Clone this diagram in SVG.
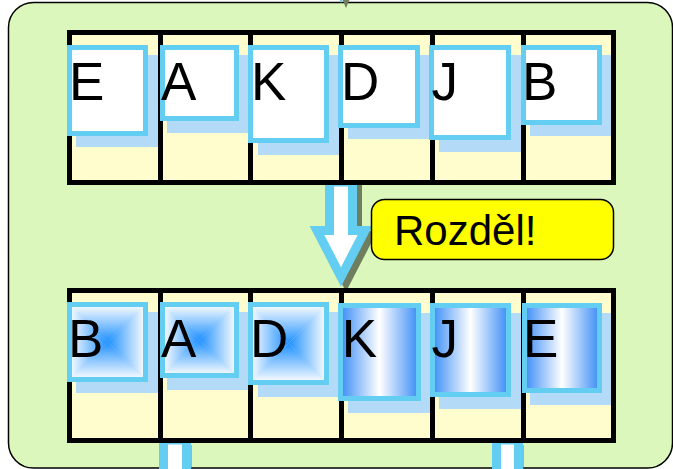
<svg xmlns="http://www.w3.org/2000/svg" width="673" height="469" viewBox="0 0 673 469">
  <style>
    .bg { fill: #DCF7BC; stroke: #000; stroke-width: 1.5; }
    .cells { fill: #FFFDCD; stroke: none; }
    .frame { fill: none; stroke: #000; stroke-width: 5; }
    .div { stroke: #000; stroke-width: 5; }
    .shadow { fill: #B3DBF8; }
    .card { stroke: #63CDF2; stroke-width: 5; }
    .white { fill: #FFFFFF; }
    .letter { font-family: "Liberation Sans", Arial, sans-serif; font-size: 53px; fill: #000; }
    .label-box { fill: #FFFF00; stroke: #000; stroke-width: 1.5; }
    .label-text { font-family: "Liberation Sans", Arial, sans-serif; font-size: 42px; fill: #000; }
    .arrow { fill: #FFFFFF; stroke: #63CDF2; stroke-width: 9; stroke-linejoin: miter; }
    .arrow-shadow { fill: #6E7E5E; stroke: #6E7E5E; stroke-width: 9; stroke-linejoin: miter; }
  </style>
  <defs>
    <linearGradient id="gTop" x1="0" y1="0" x2="0" y2="1"><stop offset="0" stop-color="#FFFFFF"/><stop offset="1" stop-color="#1E90FF"/></linearGradient>
    <linearGradient id="gBottom" x1="0" y1="0" x2="0" y2="1"><stop offset="0" stop-color="#1E90FF"/><stop offset="1" stop-color="#FFFFFF"/></linearGradient>
    <linearGradient id="gLeft" x1="0" y1="0" x2="1" y2="0"><stop offset="0" stop-color="#FFFFFF"/><stop offset="1" stop-color="#1E90FF"/></linearGradient>
    <linearGradient id="gRight" x1="0" y1="0" x2="1" y2="0"><stop offset="0" stop-color="#1E90FF"/><stop offset="1" stop-color="#FFFFFF"/></linearGradient>
    <linearGradient id="gCyl" x1="0" y1="0" x2="1" y2="0"><stop offset="0" stop-color="#3A8CF6"/><stop offset="0.5" stop-color="#FFFFFF"/><stop offset="1" stop-color="#3A8CF6"/></linearGradient>
  </defs>

  <rect id="background" class="bg" x="8.5" y="2.5" width="664" height="465.5" rx="25" ry="25"/>

  <g id="connectors">
    <polygon points="340,-6 352,-6 346,8" fill="#6E7E5E"/>
    <polygon points="335,-10 347,-10 341,3" fill="#63CDF2"/>
    <g transform="translate(5,5)">
      <polygon class="arrow-shadow" points="329.5,182 352.5,182 352.5,230.5 365,230.5 341,277 317,230.5 329.5,230.5"/>
    </g>
    <polygon class="arrow" points="329.5,182 352.5,182 352.5,230.5 365,230.5 341,277 317,230.5 329.5,230.5"/>
    <rect x="168.5" y="445" width="23" height="40" fill="#6E7E5E"/>
    <path class="arrow" d="M163.5,485 V440 H186.5 V485"/>
    <rect x="501.5" y="445" width="22" height="40" fill="#6E7E5E"/>
    <path class="arrow" d="M496.5,485 V440 H518.5 V485"/>
  </g>

  <g id="top-array">
    <rect class="cells" x="69.5" y="32.5" width="544" height="150"/>
    <g class="shadows">
      <rect class="shadow" x="76" y="55" width="84" height="92"/>
      <rect class="shadow" x="167" y="55" width="82" height="78"/>
      <rect class="shadow" x="258" y="55" width="82" height="100"/>
      <rect class="shadow" x="348" y="55" width="82" height="84"/>
      <rect class="shadow" x="439" y="55" width="83" height="97"/>
      <rect class="shadow" x="530" y="55" width="82" height="81"/>
    </g>
    <rect class="frame" x="69.5" y="32.5" width="544" height="150"/>
    <line class="div" x1="160.5" y1="32.5" x2="160.5" y2="182.5"/>
    <line class="div" x1="250.5" y1="32.5" x2="250.5" y2="182.5"/>
    <line class="div" x1="341.5" y1="32.5" x2="341.5" y2="182.5"/>
    <line class="div" x1="432.5" y1="32.5" x2="432.5" y2="182.5"/>
    <line class="div" x1="523.5" y1="32.5" x2="523.5" y2="182.5"/>
    <g id="top-card-E"><rect class="card white" x="69.5" y="47.5" width="76" height="86"/><text class="letter" x="69" y="100">E</text></g>
    <g id="top-card-A"><rect class="card white" x="162.5" y="47.5" width="74" height="71"/><text class="letter" x="161" y="100">A</text></g>
    <g id="top-card-K"><rect class="card white" x="250.5" y="47.5" width="76" height="93"/><text class="letter" x="251" y="100">K</text></g>
    <g id="top-card-D"><rect class="card white" x="340.5" y="47.5" width="77" height="78"/><text class="letter" x="341" y="100">D</text></g>
    <g id="top-card-J"><rect class="card white" x="431.5" y="47.5" width="77" height="90"/><text class="letter" x="431.6" y="100">J</text></g>
    <g id="top-card-B"><rect class="card white" x="523.5" y="47.5" width="76" height="75"/><text class="letter" x="522" y="100">B</text></g>
  </g>

  <g id="bottom-array">
    <rect class="cells" x="69.5" y="290.5" width="544" height="150"/>
    <g class="shadows">
      <rect class="shadow" x="76" y="312" width="84" height="81"/>
      <rect class="shadow" x="167" y="312" width="83" height="78"/>
      <rect class="shadow" x="258" y="312" width="82" height="85"/>
      <rect class="shadow" x="348" y="313" width="84" height="100"/>
      <rect class="shadow" x="439" y="313" width="83" height="96"/>
      <rect class="shadow" x="530" y="313" width="84" height="92"/>
    </g>
    <rect class="frame" x="69.5" y="290.5" width="544" height="150"/>
    <line class="div" x1="160.5" y1="290.5" x2="160.5" y2="440.5"/>
    <line class="div" x1="250.5" y1="290.5" x2="250.5" y2="440.5"/>
    <line class="div" x1="341.5" y1="290.5" x2="341.5" y2="440.5"/>
    <line class="div" x1="432.5" y1="290.5" x2="432.5" y2="440.5"/>
    <line class="div" x1="523.5" y1="290.5" x2="523.5" y2="440.5"/>
    <g id="bottom-card-B">
      <polygon points="69.5,304.5 145.5,304.5 107.5,342" fill="url(#gTop)"/>
      <polygon points="69.5,379.5 145.5,379.5 107.5,342" fill="url(#gBottom)"/>
      <polygon points="69.5,304.5 69.5,379.5 107.5,342" fill="url(#gLeft)"/>
      <polygon points="145.5,304.5 145.5,379.5 107.5,342" fill="url(#gRight)"/>
      <rect class="card" x="69.5" y="304.5" width="76" height="75" fill="none"/>
      <text class="letter" x="68" y="357">B</text>
    </g>
    <g id="bottom-card-A">
      <polygon points="162.5,304.5 236.5,304.5 199.5,340" fill="url(#gTop)"/>
      <polygon points="162.5,375.5 236.5,375.5 199.5,340" fill="url(#gBottom)"/>
      <polygon points="162.5,304.5 162.5,375.5 199.5,340" fill="url(#gLeft)"/>
      <polygon points="236.5,304.5 236.5,375.5 199.5,340" fill="url(#gRight)"/>
      <rect class="card" x="162.5" y="304.5" width="74" height="71" fill="none"/>
      <text class="letter" x="161" y="357">A</text>
    </g>
    <g id="bottom-card-D">
      <polygon points="250.5,304.5 326.5,304.5 288.5,343.5" fill="url(#gTop)"/>
      <polygon points="250.5,382.5 326.5,382.5 288.5,343.5" fill="url(#gBottom)"/>
      <polygon points="250.5,304.5 250.5,382.5 288.5,343.5" fill="url(#gLeft)"/>
      <polygon points="326.5,304.5 326.5,382.5 288.5,343.5" fill="url(#gRight)"/>
      <rect class="card" x="250.5" y="304.5" width="76" height="78" fill="none"/>
      <text class="letter" x="250" y="357">D</text>
    </g>
    <g id="bottom-card-K"><rect class="card" x="340.5" y="305.5" width="78" height="93" fill="url(#gCyl)"/><text class="letter" x="341.7" y="357">K</text></g>
    <g id="bottom-card-J"><rect class="card" x="432.5" y="305.5" width="76" height="89" fill="url(#gCyl)"/><text class="letter" x="431.6" y="357">J</text></g>
    <g id="bottom-card-E"><rect class="card" x="524.5" y="305.5" width="75" height="85" fill="url(#gCyl)"/><text class="letter" x="523" y="357">E</text></g>
  </g>

  <g id="label-rozdel">
    <rect class="label-box" x="371.5" y="199.5" width="242" height="60" rx="13" ry="13"/>
    <text class="label-text" x="394" y="245">Rozděl!</text>
  </g>
</svg>
